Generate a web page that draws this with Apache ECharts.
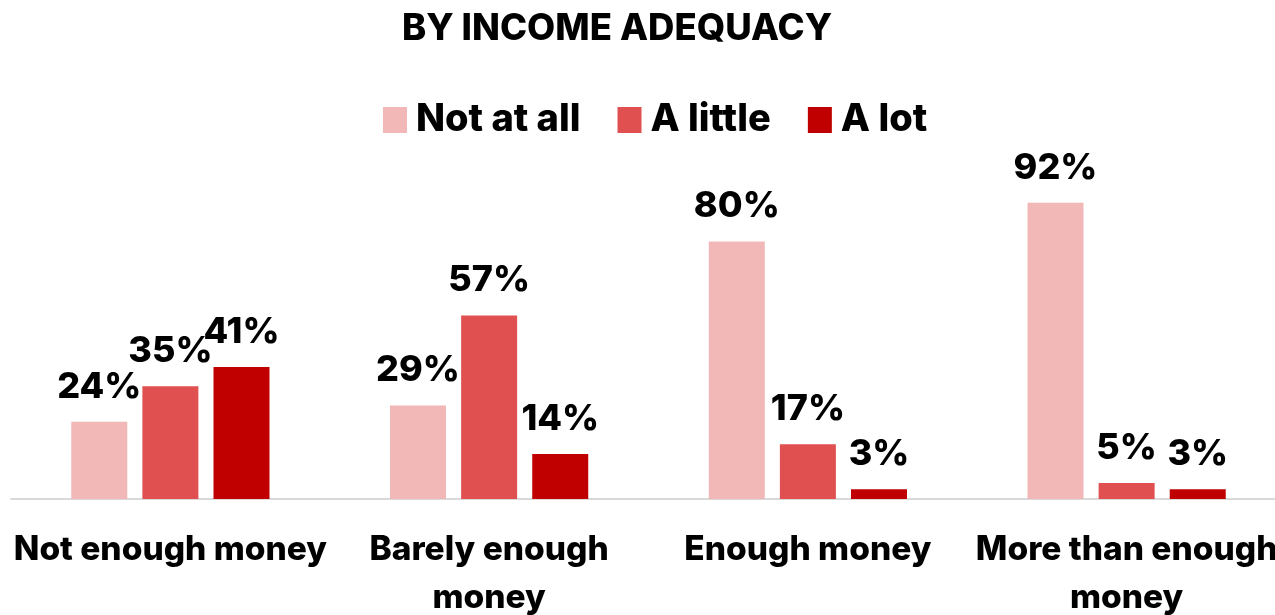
<!DOCTYPE html>
<html>
<head>
<meta charset="utf-8">
<script src="https://cdn.jsdelivr.net/npm/echarts@6/dist/echarts.min.js"></script>
<style>
  html, body { margin: 0; padding: 0; background: #fff; }
  #chart { width: 1275px; height: 615px; }
</style>
</head>
<body>
<div id="chart"></div>
<script>
// Share of respondents, grouped by how adequate their income is
const categories = ['Not enough money', 'Barely enough\nmoney', 'Enough money', 'More than enough\nmoney'];
const seriesNames = ['Not at all', 'A little', 'A lot'];
const notAtAll = [24, 29, 80, 92];
const aLittle = [35, 57, 17, 5];
const aLot = [41, 14, 3, 3];

const colors = ['#F2B8B8', '#E05050', '#C00000'];
const FONT = 'Inter';

const chart = echarts.init(document.getElementById('chart'));

function barSeries(name, data, color) {
  return {
    name: name,
    type: 'bar',
    data: data,
    barWidth: 56,
    barGap: '27%',
    itemStyle: { color: color },
    label: {
      show: true,
      position: 'top',
      distance: 17,
      formatter: '{c}%',
      color: '#000',
      fontFamily: FONT,
      fontWeight: 800,
      fontSize: 36
    }
  };
}

chart.setOption({
  animation: false,
  backgroundColor: '#fff',
  title: {
    text: 'BY INCOME ADEQUACY',
    left: 612,
    textAlign: 'center',
    top: 6,
    textStyle: { fontFamily: FONT, fontWeight: 800, fontSize: 36.5, color: '#000' }
  },
  legend: {
    data: seriesNames,
    left: 378,
    top: 96,
    itemWidth: 24,
    itemHeight: 26,
    itemGap: 37,
    icon: 'rect',
    textStyle: { fontFamily: FONT, fontWeight: 800, fontSize: 38, color: '#000', padding: [0, 0, 0, 4] }
  },
  grid: { left: 11, width: 1275, top: 177, bottom: 116, containLabel: false, outerBoundsMode: 'none' },
  xAxis: {
    type: 'category',
    data: categories,
    axisLine: { lineStyle: { color: '#D9D9D9', width: 2 } },
    axisTick: { show: false },
    axisLabel: {
      interval: 0,
      margin: 27,
      color: '#000',
      fontFamily: FONT,
      fontWeight: 800,
      fontSize: 33.5,
      lineHeight: 48
    }
  },
  yAxis: {
    type: 'value',
    min: 0,
    max: 100,
    show: false,
    splitLine: { show: false }
  },
  series: [
    barSeries(seriesNames[0], notAtAll, colors[0]),
    barSeries(seriesNames[1], aLittle, colors[1]),
    barSeries(seriesNames[2], aLot, colors[2])
  ]
});
</script>
</body>
</html>
